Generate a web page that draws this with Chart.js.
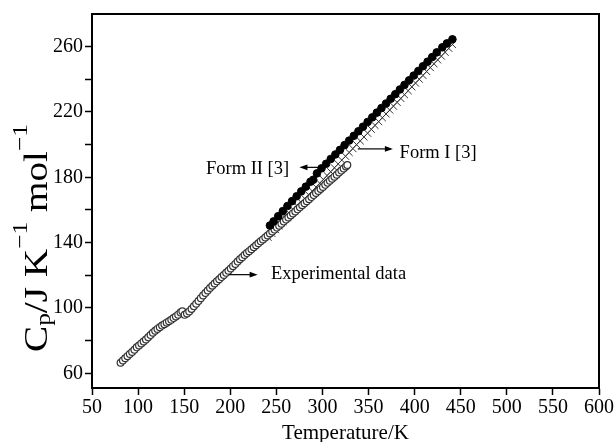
<!DOCTYPE html>
<html>
<head>
<meta charset="utf-8">
<script src="https://cdn.jsdelivr.net/npm/chart.js@4/dist/chart.umd.min.js"></script>
<style>
html,body{margin:0;padding:0;background:#fff;}
#wrap{width:616px;height:442px;position:relative;}
canvas{display:block;}
</style>
</head>
<body>
<div id="wrap"><canvas id="c" width="616" height="442"></canvas></div>
<script>
// ---- data ----
const xTicks = [50,100,150,200,250,300,350,400,450,500,550,600];
const yTicks = [60,80,100,120,140,160,180,200,220,240,260];
const yLabels = [60,100,140,180,220,260];

const expT = [81,83.5,86,88.5,91,93.5,96,98.5,101,103.5,106,108.5,111,113.5,116,118.5,121,123.5,126,128.5,131,133.5,136,138.5,141,143.5,146,148,150.5,153,155.5,158,160.5,163,165.5,168,170.5,173,175.5,178,180.5,183,185.5,188,190.5,193,195.5,198,200.5,203,205.5,208,210.5,213,215.5,218,220.5,223,225.5,228,230.5,233,235.5,238,240.5,243,245.5,248,250.5,253,255.5,258,260.5,263,265.5,268,270.5,273,275.5,278,280.5,283,285.5,288,290.5,293,295.5,298,300.5,303,305.5,308,310.5,313,315.5,318,320.5,323,325.5,327];
const expCp = [66.5,67.8,69.2,70.5,71.8,73.0,74.4,75.9,77.0,78.3,79.5,80.7,82.0,83.4,84.8,86.1,87.2,88.2,89.2,90.1,91.0,91.9,92.8,93.8,94.8,95.9,97.2,98.0,95.8,96.6,97.9,99.4,101.0,102.6,104.3,106.0,107.6,109.2,110.7,112.2,113.6,115.0,116.3,117.6,118.9,120.2,121.5,122.8,124.2,125.6,127.0,128.4,129.8,131.1,132.4,133.6,134.8,136.0,137.2,138.4,139.6,140.8,142.0,143.2,144.4,145.6,146.8,148.0,149.2,150.4,151.6,152.9,154.1,155.4,156.6,157.9,159.1,160.4,161.6,162.9,164.1,165.4,166.6,167.9,169.1,170.4,171.6,172.9,174.1,175.4,176.6,177.9,179.1,180.4,181.6,182.9,184.1,185.4,186.6,187.5];

const form2T = [243,247,252,257,262,267,272,277,282,287,290,294,299,304,309,314,319,324,329,334,339,344,349,354,359,364,369,374,379,384,389,394,399,404,409,414,419,424,430,435,441];
const form2Cp = [150.5,153.0,156.2,159.3,162.4,165.4,168.4,171.4,174.3,177.3,178.5,182.4,185.5,188.3,191.2,194.0,196.8,199.7,202.5,205.4,208.2,211.0,213.9,216.7,219.6,222.4,225.2,228.1,230.9,233.8,236.6,239.4,242.3,245.1,248.0,250.8,253.6,256.5,259.6,262.0,264.5];

const form1T = [241,245,249,253,257,261,265,269,273,277,281,285,289,293,297,301,305,309,313,317,321,325,329,333,337,341,345,349,353,357,361,365,369,373,377,381,385,389,393,397,401,405,409,413,417,421,425,429,433,437,441];
const form1Cp = [143.3,145.7,148.0,150.4,152.8,155.1,157.5,159.8,162.2,164.6,166.9,169.3,171.6,174.0,176.4,178.7,181.1,183.4,185.8,188.2,190.5,192.9,195.2,197.6,200.0,202.3,204.7,207.0,209.4,211.8,214.1,216.5,218.8,221.2,223.6,225.9,228.3,230.6,233.0,235.4,237.7,240.1,242.4,244.8,247.2,249.5,251.9,254.2,256.6,259.0,261.3];

// annotation labels (data units)
const noteTexts = ['Experimental data','Form II [3]','Form I [3]'];
const noteT = [244.2,173.6,383.7];
const noteCp = [118.0,182.1,191.6];
// arrows: tail T, head T, Cp
const arrowFromT = [198.9,297.8,338.4];
const arrowToT = [229.7,275.0,376.4];
const arrowCp = [120.4,186.1,197.4];

const SERIF = '"Liberation Serif","Times New Roman",serif';
const toPts = (xs, ys) => xs.map((x,i)=>({x:x, y:ys[i]}));

const framePlugin = {
  id:'frame',
  afterDraw(chart){
    const {ctx, chartArea:a, scales} = chart;
    ctx.save();
    ctx.strokeStyle='#000'; ctx.lineWidth=2;
    ctx.beginPath();
    ctx.moveTo(a.left, a.top); ctx.lineTo(a.right, a.top); ctx.lineTo(a.right, a.bottom);
    ctx.stroke();
    // annotations
    const xs = scales.x, ys = scales.y;
    ctx.fillStyle='#000';
    ctx.font = '18.5px ' + SERIF;
    ctx.textBaseline='alphabetic'; ctx.textAlign='left';
    noteTexts.forEach((t,i)=>{
      ctx.fillText(t, xs.getPixelForValue(noteT[i]), ys.getPixelForValue(noteCp[i]));
    });
    ctx.lineWidth=1.2;
    arrowFromT.forEach((t0,i)=>{
      const x0 = xs.getPixelForValue(t0), x1 = xs.getPixelForValue(arrowToT[i]);
      const y = ys.getPixelForValue(arrowCp[i]);
      const dir = Math.sign(x1-x0);
      ctx.beginPath(); ctx.moveTo(x0,y); ctx.lineTo(x1-dir*5,y); ctx.stroke();
      ctx.beginPath(); ctx.moveTo(x1,y); ctx.lineTo(x1-dir*8,y-2.8); ctx.lineTo(x1-dir*8,y+2.8); ctx.closePath(); ctx.fill();
    });
    // y-axis title with sub/superscripts
    const parts = [['C','n'],['p','sub'],['/J K','n'],['\u22121','sup'],[' mol','n'],['\u22121','sup']];
    const fMain = 34, fSmall = 22;
    let total = 0;
    parts.forEach(p=>{ ctx.font = (p[1]==='n'?fMain:fSmall)+'px '+SERIF; total += ctx.measureText(p[0]).width; });
    ctx.translate(47, 238);
    ctx.rotate(-Math.PI/2);
    ctx.scale(228/total, 1);
    let u = -total/2;
    parts.forEach(p=>{
      ctx.font = (p[1]==='n'?fMain:fSmall)+'px '+SERIF;
      const v = p[1]==='sub'?3:(p[1]==='sup'?-20:0);
      ctx.fillText(p[0], u, v);
      u += ctx.measureText(p[0]).width;
    });
    ctx.restore();
  }
};

new Chart(document.getElementById('c'), {
  type:'scatter',
  data:{
    datasets:[
      {label:'Form II [3]', data:toPts(form2T, form2Cp), pointStyle:'circle', pointRadius:3.8, backgroundColor:'#000', borderColor:'#000', borderWidth:1, order:1},
      {label:'Experimental data', data:toPts(expT, expCp), pointStyle:'circle', pointRadius:3.4, backgroundColor:'#fff', borderColor:'#333', borderWidth:1.2, order:2},
      {label:'Form I [3]', data:toPts(form1T, form1Cp), pointStyle:'crossRot', pointRadius:5, backgroundColor:'#333', borderColor:'#333', borderWidth:1, order:3}
    ]
  },
  options:{
    responsive:false, animation:false, devicePixelRatio:1,
    layout:{padding:{top:13,right:17,left:0,bottom:0}},
    plugins:{legend:{display:false}, tooltip:{enabled:false}},
    scales:{
      x:{
        type:'linear', min:50, max:600, position:'bottom',
        afterBuildTicks: s => { s.ticks = xTicks.map(v=>({value:v})); },
        afterFit: s => { s.height = 54; },
        ticks:{color:'#000', font:{family:SERIF, size:20}, padding:1, maxRotation:0, autoSkip:false},
        grid:{drawOnChartArea:false, drawTicks:true, tickLength:7, tickColor:'#000', tickWidth:1.5},
        border:{display:true, color:'#000', width:2},
        title:{display:true, text:'Temperature/K', color:'#000', font:{family:SERIF, size:21, lineHeight:0.8}, padding:0}
      },
      y:{
        type:'linear', min:51, max:280,
        afterBuildTicks: s => { s.ticks = yTicks.map(v=>({value:v})); },
        afterFit: s => { s.width = 92; },
        ticks:{color:'#000', font:{family:SERIF, size:20}, padding:2, autoSkip:false,
          callback: v => yLabels.includes(v) ? String(v) : ''},
        grid:{drawOnChartArea:false, drawTicks:true, tickLength:7, tickColor:'#000', tickWidth:1.5},
        border:{display:true, color:'#000', width:2}
      }
    }
  },
  plugins:[framePlugin]
});
</script>
</body>
</html>
